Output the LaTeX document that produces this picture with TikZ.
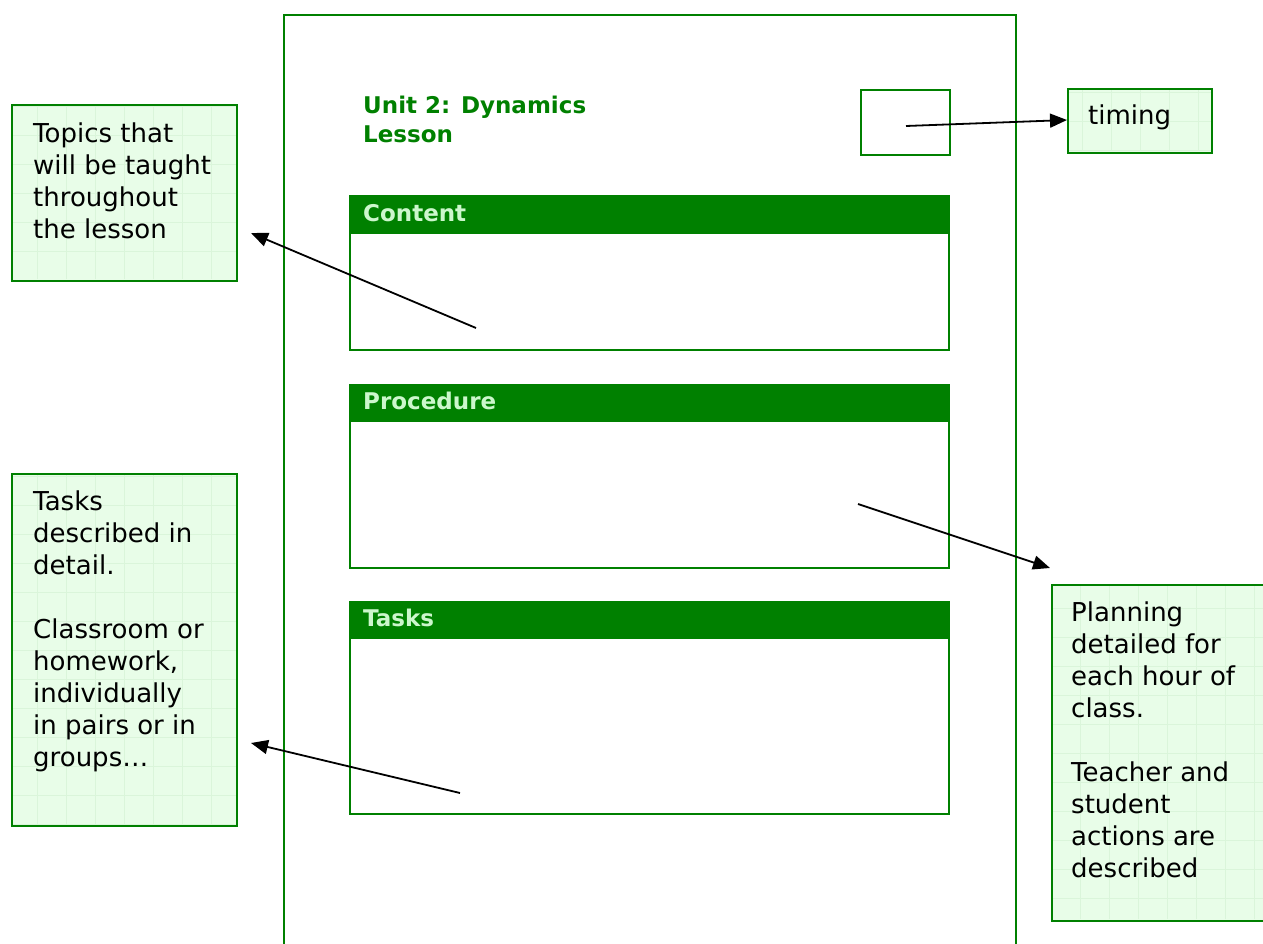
\documentclass[tikz,border=0pt]{standalone}
\usepackage{fontspec}
\setmainfont{DejaVu Sans}
\usetikzlibrary{arrows.meta}
\definecolor{dgreen}{HTML}{008000}
\definecolor{hdtext}{HTML}{CCF7CC}
\definecolor{cfill}{HTML}{E8FDE8}
\definecolor{cgrid}{HTML}{DAF5DA}
\begin{document}
\begin{tikzpicture}[x=1pt,y=-1pt,
  page/.style={draw=dgreen,line width=2.2pt},
  frame/.style={draw=dgreen,line width=2.2pt,anchor=north west,inner sep=0pt},
  header/.style={fill=dgreen,draw=dgreen,line width=2.2pt,anchor=north west,inner sep=0pt},
  hdlabel/.style={text=hdtext,font=\fontsize{23}{26}\selectfont\bfseries,anchor=west,inner sep=0pt},
  callout/.style={draw=dgreen,line width=2pt,fill=cfill,anchor=north west,inner sep=0pt,
    path picture={\draw[cgrid,line width=0.5pt] ([shift={(-2pt,2pt)}]path picture bounding box.south west) grid[step=29pt] (path picture bounding box.north east);}},
  ctext/.style={font=\fontsize{26}{32}\selectfont,align=left,anchor=north west,inner sep=0pt},
  pointer/.style={line width=1.8pt,-{Triangle[length=17pt,width=14pt]}}
]
\useasboundingbox (0,0) rectangle (1263,944);
% page
\draw[page] (284,960) -- (284,15) -- (1016,15) -- (1016,960);
% title
\node[font=\fontsize{23}{29}\selectfont\bfseries,text=dgreen,align=left,anchor=north west,inner sep=0pt] (title) at (363,96) {Unit 2: Dynamics\\Lesson};
% timing slot
\node[frame,minimum width=89pt,minimum height=65pt] (slot) at (860,89) {};
\coordinate (slotc) at (906,126);
% sections
\node[frame,minimum width=599pt,minimum height=154pt] (content) at (349,195) {};
\node[header,minimum width=599pt,minimum height=37pt] (contenthd) at (349,195) {};
\node[hdlabel] (contentlb) at (363,213) {Content};
\node[frame,minimum width=599pt,minimum height=183pt] (procedure) at (349,384) {};
\node[header,minimum width=599pt,minimum height=36pt] (procedurehd) at (349,384) {};
\node[hdlabel] (procedurelb) at (363,401) {Procedure};
\node[frame,minimum width=599pt,minimum height=212pt] (tasks) at (349,601) {};
\node[header,minimum width=599pt,minimum height=36pt] (taskshd) at (349,601) {};
\node[hdlabel] (taskslb) at (363,618) {Tasks};
% callouts
\node[callout,minimum width=225pt,minimum height=176pt] (topics) at (11,104) {};
\node[ctext] (topicstx) at (33,123) {Topics that\\will be taught\\throughout\\the lesson};
\node[callout,minimum width=225pt,minimum height=352pt] (taskd) at (11,473) {};
\node[ctext] (taskdtx) at (33,491) {Tasks\\described in\\detail.\\[32pt]Classroom or\\homework,\\individually\\in pairs or in\\groups\ldots};
\node[callout,minimum width=230pt,minimum height=336pt] (plan) at (1051,584) {};
\node[ctext] (plantx) at (1071,602) {Planning\\detailed for\\each hour of\\class.\\[32pt]Teacher and\\student\\actions are\\described};
\node[callout,minimum width=144pt,minimum height=64pt] (timing) at (1067,88) {};
\node[font=\fontsize{26}{32}\selectfont,anchor=base west,inner sep=0pt] (timingtx) at (1088,125) {timing};
% pointers
\coordinate (p1s) at (476,328);
\coordinate (p1e) at (251,233);
\coordinate (p2s) at (858,504);
\coordinate (p2e) at (1050,568);
\coordinate (p3s) at (460,793);
\coordinate (p3e) at (251,743);
\coordinate (p4e) at (1067,120);
\draw[pointer] (p1s) -- (p1e);
\draw[pointer] (p2s) -- (p2e);
\draw[pointer] (p3s) -- (p3e);
\draw[pointer] (slotc) -- (p4e);
\end{tikzpicture}
\end{document}
